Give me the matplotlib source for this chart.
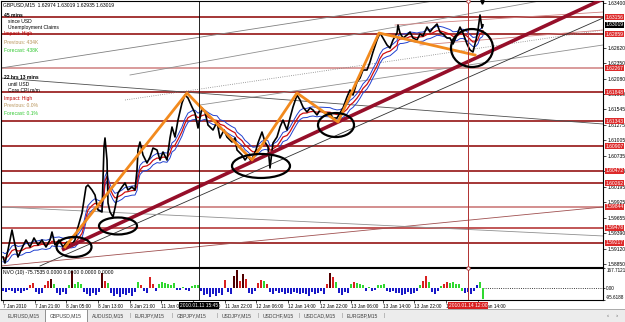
import numpy as np
import matplotlib
matplotlib.use("Agg")
import matplotlib.pyplot as plt
from matplotlib.patches import Ellipse, Rectangle

plt.rcParams['font.family'] = ['Liberation Sans', 'DejaVu Sans']

W, H = 625, 322

# ---------------- data ----------------
bars = [3, 5, 8, 12, 15, 18, 22, 26, 30, 34, 38, 42, 46, 50, 52, 55, 59, 63, 67, 71, 75, 78, 82, 84, 86, 88,
        92, 95, 98, 102, 104, 105, 107, 108, 110, 113, 115, 118, 122, 125, 128, 132, 135, 137, 138, 140, 143,
        147, 150, 153, 157, 160, 163, 167, 170, 172, 175, 178, 182, 185, 188, 192, 195, 198, 202, 205, 208,
        213, 217, 220, 224, 227, 232, 235, 237, 242, 245, 248, 251, 253, 256, 258, 262, 265, 268, 270, 273,
        277, 280, 283, 287, 290, 293, 297, 300, 303, 307, 310, 313, 317, 320, 325, 330, 333, 337, 340, 343,
        347, 350, 353, 357, 360, 363, 367, 370, 373, 377, 380, 383, 387, 390, 393, 397, 398, 400, 403, 407,
        410, 413, 417, 420, 423, 427, 430, 433, 437, 440, 443, 447, 450, 453, 457, 460, 463, 467, 470, 473,
        476, 478, 480, 482, 483]
close = [1.58972, 1.58868, 1.59095, 1.59443, 1.59182, 1.58972, 1.59129, 1.59269, 1.59147, 1.59304, 1.59182,
         1.59269, 1.59147, 1.59269, 1.59408, 1.59182, 1.59269, 1.59147, 1.59234, 1.59164, 1.59269, 1.59495,
         1.59739, 1.59966, 1.60193, 1.60227, 1.60140, 1.60053, 1.59792, 1.59757, 1.60890, 1.61047, 1.60663,
         1.59914, 1.59757, 1.59670, 1.59827, 1.60088, 1.60193, 1.60262, 1.60140, 1.60193, 1.60140, 1.60489,
         1.60838, 1.60977, 1.60750, 1.60611, 1.60716, 1.60872, 1.60838, 1.60663, 1.60803, 1.60663, 1.61047,
         1.61238, 1.61064, 1.61360, 1.61657, 1.61796, 1.61744, 1.61587, 1.61482, 1.61221, 1.61570, 1.61500,
         1.61273, 1.61186, 1.61326, 1.61047, 1.61186, 1.61064, 1.60977, 1.61047, 1.60838, 1.60750, 1.60663,
         1.60733, 1.60646, 1.60716, 1.60838, 1.60960, 1.61151, 1.60977, 1.60890, 1.60524, 1.60960, 1.61064,
         1.61238, 1.61360, 1.61186, 1.61395, 1.61587, 1.61796, 1.61709, 1.61587, 1.61500, 1.61570, 1.61535,
         1.61448, 1.61535, 1.61482, 1.61482, 1.61395, 1.61395, 1.61482, 1.61570, 1.61761, 1.61883, 1.61796,
         1.62023, 1.62092, 1.62232, 1.62232, 1.62371, 1.62546, 1.62755, 1.62877, 1.62790, 1.62668, 1.62615,
         1.62755, 1.62877, 1.63016, 1.62877, 1.62790, 1.62842, 1.62894, 1.62790, 1.62755, 1.62859, 1.62825,
         1.62981, 1.62894, 1.62964, 1.63034, 1.62894, 1.62859, 1.62790, 1.62790, 1.62685, 1.62842, 1.62981,
         1.62877, 1.62685, 1.62581, 1.62546, 1.62755, 1.62929, 1.63191, 1.62964, 1.63019]

# orange swing lines
swing_x = [65, 187, 252, 297, 338, 379, 475]
swing_p = [1.59147, 1.61831, 1.60664, 1.61831, 1.61326, 1.62877, 1.62493]

# thick up-trend line
trend_x = [62, 603]
trend_p = [1.59095, 1.63469]

# horizontal support / resistance levels
levels = [1.63156, 1.62859, 1.62267, 1.61848, 1.61343, 1.60907, 1.60472, 1.60262, 1.59844, 1.59478, 1.59217]
level_colors = ['#8B0000', '#8B0000', '#D08080', '#8B0000', '#8B0000', '#8B0000', '#8B0000', '#8B0000',
                '#C87070', '#B02828', '#8B0000']

# thin drawn lines: (x0, p0, x1, p1, color, style)
thin_lines = [
    (1, 1.62267, 440, 1.63452, '#808080', '-'),
    (130, 1.62145, 545, 1.63452, '#909090', '-'),
    (125, 1.61709, 603, 1.62929, '#808080', ':'),
    (200, 1.61622, 603, 1.62668, '#909090', '-'),
    (1, 1.62092, 603, 1.61291, '#505050', '-'),
    (395, 1.63016, 603, 1.63243, '#D08080', '-'),
    (420, 1.62668, 603, 1.62929, '#D08080', '-'),
    (40, 1.58816, 603, 1.63138, '#303030', '-'),
    (1, 1.58816, 603, 1.59844, '#A05050', '-'),
    (1, 1.59844, 603, 1.59339, '#909090', '-'),
]

# ellipses: centre bar, centre price, width (bars), height (price)
ell_x = [74, 118, 261, 336, 472]
ell_p = [1.59147, 1.59513, 1.60559, 1.61273, 1.62615]
ell_w = [35, 38, 58, 36, 42]
ell_h = [0.00349, 0.00296, 0.00418, 0.00418, 0.00662]

# price axis labels (those fully hidden by level labels in the reference are omitted)
ytick_labels = ['1.63400', '1.62620', '1.62350', '1.62080', '1.61810', '1.61545',
                '1.61275', '1.61005', '1.60735', '1.60465', '1.60195', '1.59925', '1.59655', '1.59390',
                '1.59120', '1.58850']
last_price = 1.63019

# time axis labels
time_labels = ['7 Jan 2010', '7 Jan 21:00', '8 Jan 05:00', '8 Jan 13:00', '8 Jan 21:00', '11 Jan 06:00',
               '11 Jan 14:00', '11 Jan 22:00', '12 Jan 06:00', '12 Jan 14:00', '12 Jan 22:00', '13 Jan 06:00',
               '13 Jan 14:00', '13 Jan 22:00', '14 Jan 06:00', '14 Jan 14:00']
cursor1_x, cursor1_label = 199, '2010.01.11 15:45'
cursor2_x, cursor2_label = 468, '2010.01.14 12:00'

# NVO histogram
hist_x = list(range(3, 484, 3))
hist_v = [-20, -30, -15, -25, -35, -20, -40, -25, -15, 25, 45, -30, -45, -35, 30, 60, 80, 40, -40, -55,
          -30, -45, 30, 140, 40, 50, 35, -30, -50, -65, -40, -55, -30, 130, 60, 45, -40, -60, -50, -70,
          -45, -55, -35, -60, -30, 55, 30, -25, -40, 90, 40, -20, 35, 50, 45, 40, 30, 45, -15, -10,
          15, -15, -20, 20, 30, 25, -25, -55, -45, -70, -50, -60, -40, -55, 70, -30, -45, 100, 150, 60,
          120, 80, -35, -50, -25, 45, 70, 60, 40, -30, -45, -20, -40, -30, -50, -35, -45, -30, -40, -50,
          -35, -45, -60, -30, -50, -40, -25, -45, 40, 130, 90, 50, -35, -55, -30, -40, 40, 55, 45, 35,
          25, -20, 15, -25, -15, 30, 25, 35, -20, -30, -25, -40, -35, -55, -45, -30, -50, -35, -20, 30,
          60, 100, 50, -30, -45, -25, 20, 35, 55, 45, 50, 35, 40, -25, -40, -30, -45, -20, 30, 55, -85]
hist_c = list('bbbbbbbbbrrbbbrrkgbbbbgkgggbbbbbbkrgbbbbbbbbbgrbbrrbggggggbbgbbgggbbbbbbbbrbbkkrkrbbbrrgrbbbbbbbbbb'
              'bbbbbbbbbrkrgbbbbgrgggbgbbgggbbbbbbbbbbbgrrgbbbgrrgggggbbbbbggb')
nvo_min, nvo_max = -95.6188, 167.7121

news1 = ['45 mins', 'since USD', 'Unemployment Claims', 'Impact: High', 'Previous: 434K', 'Forecast: 438K']
news2 = ['22 hrs 13 mins', 'until USD', 'Core CPI m/m', 'Impact: High', 'Previous: 0.0%', 'Forecast: 0.1%']
header = 'GBPUSD,M15  1.62974 1.63019 1.62935 1.63019'
tabs = ['EURUSD,M15', 'GBPUSD,M15', 'AUDUSD,M15', 'EURJPY,M15', 'GBPJPY,M15', 'USDJPY,M15',
        'USDCHF,M15', 'USDCAD,M15', 'EURGBP,M15']

# ---------------- figure ----------------
fig = plt.figure(figsize=(W / 100, H / 100), dpi=100)
fig.patch.set_facecolor('white')

FS = 3.6


def rect(x0, y0, x1, y1):
    return [x0 / W, 1 - y1 / H, (x1 - x0) / W, (y1 - y0) / H]


ax = fig.add_axes(rect(1, 1, 603, 267))
ax2 = fig.add_axes(rect(1, 268, 603, 300))
ov = fig.add_axes([0, 0, 1, 1], zorder=10)
ov.set_xlim(0, W)
ov.set_ylim(H, 0)
ov.axis('off')
ov.patch.set_alpha(0)

ymin, ymax = 1.58798, 1.63435
for a in (ax, ax2):
    a.set_xlim(1, 603)
    for s in a.spines.values():
        s.set_linewidth(0.8)
        s.set_color('black')
ax.set_ylim(ymin, ymax)

# levels
for lv, c in zip(levels, level_colors):
    ax.axhline(lv, color=c, lw=1.1, zorder=2)

# thin lines
for x0, p0, x1, p1, c, ls in thin_lines:
    ax.plot([x0, x1], [p0, p1], color=c, lw=0.6, ls=ls, zorder=2)

# moving average ribbon
cl = np.array(close)
alpha = 2 / (8 + 1)
ma = []
m = cl[0]
for v in cl:
    m = alpha * v + (1 - alpha) * m
    ma.append(m)
ma = np.array(ma)
ax.plot(bars, ma + 0.0008, color='#2040D0', lw=0.7, zorder=3)
ax.plot(bars, ma - 0.0008, color='#2040D0', lw=0.7, zorder=3)
ax.plot(bars, ma, color='#D01010', lw=0.9, zorder=3)

# price
ax.plot(bars, close, color='black', lw=1.2, zorder=4)

# trend line and swings
ax.plot(trend_x, trend_p, color='#960F2A', lw=2.6, zorder=5, solid_capstyle='butt')
ax.plot(swing_x, swing_p, color='#F28A1E', lw=2.0, zorder=6)

# ellipses
for x, p, w, h in zip(ell_x, ell_p, ell_w, ell_h):
    ax.add_patch(Ellipse((x, p), w, h, fill=False, ec='black', lw=1.6, zorder=7))

# cursors
for a in (ax, ax2):
    a.axvline(cursor1_x, color='black', lw=0.6, zorder=6)
    a.axvline(cursor2_x, color='#B03030', lw=0.7, zorder=6)
ax.plot([cursor2_x], [ymax], marker='o', ms=2.5, mfc='white', mec='#B03030', mew=0.6, clip_on=False, zorder=8)
ax2.plot([cursor2_x], [nvo_max], marker='o', ms=2.5, mfc='white', mec='#B03030', mew=0.6, clip_on=False, zorder=8)
ax.plot([482], [ymax - 0.0001], marker='v', ms=2.5, color='black', clip_on=False, zorder=8)

# right price scale
ax.yaxis.tick_right()
ax.set_yticks([float(t) for t in ytick_labels])
ax.set_yticklabels(ytick_labels)
ax.tick_params(axis='y', length=2, width=0.5, pad=1, labelsize=FS)
ax.set_xticks([])

# level price labels
for lv, c in zip(levels, level_colors):
    ax.text(1.004, lv, f'{lv:.5f}', transform=ax.get_yaxis_transform(), fontsize=FS, color='white',
            va='center', ha='left', clip_on=False, zorder=9,
            bbox=dict(boxstyle='square,pad=0.12', fc='#DD2A2A', ec='none'))
ax.text(1.004, last_price, f'{last_price:.5f}', transform=ax.get_yaxis_transform(), fontsize=FS,
        color='white', va='center', ha='left', clip_on=False, zorder=9,
        bbox=dict(boxstyle='square,pad=0.12', fc='black', ec='none'))

# indicator
cmap = {'b': '#1818C8', 'g': '#30D830', 'r': '#D82020', 'k': '#500000'}
ax2.bar(hist_x, hist_v, width=1.8, color=[cmap[c] for c in hist_c], linewidth=0, zorder=3)
ax2.set_ylim(nvo_min, nvo_max)
ax2.plot([hist_x[-1], 603], [0, 0], color='black', lw=0.6, ls=':', zorder=2)
ax2.yaxis.tick_right()
ax2.set_yticks([nvo_max, 0, nvo_min])
ax2.set_yticklabels([f'{nvo_max:.4f}', '0.00', f'{nvo_min:.4f}'])
ax2.tick_params(axis='y', length=1.5, width=0.5, pad=0.8, labelsize=3.3)
for lbl, va in zip(ax2.get_yticklabels(), ['top', 'center', 'bottom']):
    lbl.set_va(va)
ax2.text(0.004, 0.93, 'NVO (10) -75.7535 0.0000 0.0000 0.0000 0.0000', transform=ax2.transAxes,
         fontsize=FS, va='top', ha='left')

tpos = [3 + 31.65 * k for k in range(len(time_labels))]
ax2.set_xticks(tpos)
ax2.set_xticklabels(time_labels, ha='left')
ax2.tick_params(axis='x', length=2, width=0.5, pad=1, labelsize=3.4)

for cx, lab, fc in ((cursor1_x, cursor1_label, 'black'), (cursor2_x, cursor2_label, '#D82020')):
    ax2.text(cx, -0.17, lab, transform=ax2.get_xaxis_transform(), fontsize=3.5, color='white',
             ha='center', va='center', zorder=9, clip_on=False,
             bbox=dict(boxstyle='square,pad=0.25', fc=fc, ec='none'))

# news texts
ov.text(3, 5, header, fontsize=FS, va='center', ha='left')
ys1 = [15, 21, 27, 33, 42, 50]
ys2 = [77, 84, 90, 98, 105, 113]
cols = ['black', 'black', 'black', '#C00000', '#B8945A', '#30C830']
xo = [4, 8, 8, 4, 4, 4]
for txts, ys in ((news1, ys1), (news2, ys2)):
    for t, y, c, x in zip(txts, ys, cols, xo):
        ov.text(x, y, t, fontsize=FS, va='center', ha='left', color=c,
                fontweight='bold' if t.endswith('mins') else 'normal')

# tab bar
ov.add_patch(Rectangle((0, 309), W, 13, fc='#ECECEC', ec='none'))
ov.plot([0, W], [309, 309], color='#A0A0A0', lw=0.6)
tab_x = [8, 50, 92, 135, 177, 222, 263, 304, 347]
ov.add_patch(Rectangle((45, 309), 42, 13, fc='white', ec='#808080', lw=0.6))
for i, (t, x) in enumerate(zip(tabs, tab_x)):
    ov.text(x, 315.5, t, fontsize=3.6, va='center', ha='left', color='#404040')
    if i >= 3:
        ov.text(x - 4.5, 315.5, '|', fontsize=3.6, va='center', ha='center', color='#808080')
ov.text(384, 315.5, '|', fontsize=3.6, va='center', ha='center', color='#808080')
ov.text(608, 315.5, '\u2039', fontsize=4.5, va='center', ha='center', color='#606060')
ov.text(617, 315.5, '\u203a', fontsize=4.5, va='center', ha='center', color='#606060')

fig.savefig('out.png', dpi=100)
